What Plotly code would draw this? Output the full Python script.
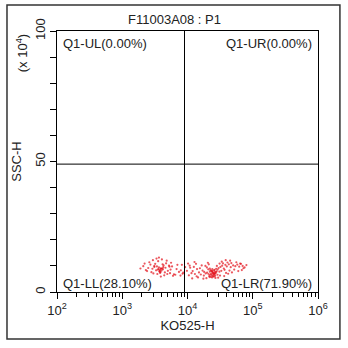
import plotly.graph_objects as go

# ---- data ----
title_text = "F11003A08 : P1"
x_label = "KO525-H"
y_label = "SSC-H"
x_tick_vals = [100, 1000, 10000, 100000, 1000000]
x_tick_text = ["10<sup>2</sup>", "10<sup>3</sup>", "10<sup>4</sup>", "10<sup>5</sup>", "10<sup>6</sup>"]
y_tick_vals = [0, 50, 100]
y_tick_text = ["0", "50", "100"]
y_minor_vals = [10, 20, 30, 40, 60, 70, 80, 90]
x_minor_vals = [m * d for d in [100, 1000, 10000, 100000] for m in range(2, 10)]
quad_x = 9000
quad_y = 49
quad_labels = ["Q1-UL(0.00%)", "Q1-UR(0.00%)", "Q1-LL(28.10%)", "Q1-LR(71.90%)"]

c1_x = [3800, 3600, 4000, 3900, 3700, 3500, 4100, 3850, 3950, 3650,
        3750, 4200, 3400, 3300, 4300, 4500, 3100, 2900, 4700, 5000,
        2700, 2500, 5400, 5800, 2300, 2100, 6200, 6800, 7400, 1900,
        3550, 4050, 3450, 4400, 3200, 2800, 4800, 5200, 2600, 3000,
        4600, 5600, 6000, 7000, 7900, 8400, 3650, 3900, 4150, 3350,
        2400, 2200, 5500, 6500, 3800, 4250, 3100, 2950, 5300, 4900]
c1_y = [8.5, 8.8, 8.2, 9.1, 7.9, 8.6, 9.0, 7.6, 8.9, 9.4,
        8.0, 8.7, 9.8, 8.3, 10.2, 7.5, 9.6, 8.9, 11.0, 8.1,
        10.5, 9.2, 7.2, 9.8, 8.4, 9.9, 6.8, 8.8, 7.7, 9.0,
        11.8, 12.5, 6.9, 6.4, 10.8, 7.6, 12.0, 10.1, 11.4, 7.1,
        9.3, 11.2, 6.2, 10.4, 8.3, 7.0, 13.2, 5.9, 10.6, 12.8,
        8.0, 10.9, 8.6, 6.6, 7.3, 9.5, 10.0, 12.2, 9.7, 6.9]

c2_x = [24500, 23000, 26000, 22000, 25000, 27000, 21000, 24000, 28000, 20000,
        23500, 25500, 19000, 29000, 22500, 26500, 18000, 30000, 21500, 27500,
        17000, 32000, 16000, 34000, 15000, 36000, 14000, 38000, 13000, 40000,
        12000, 43000, 11500, 46000, 11000, 50000, 10500, 54000, 58000, 62000,
        66000, 70000, 75000, 80000, 24800, 23800, 25800, 22800, 26800, 21800,
        20800, 19800, 18800, 28800, 30800, 33000, 35000, 37000, 39000, 41000,
        44000, 47000, 52000, 56000, 60000, 64000, 68000, 72000, 31000, 29500,
        16500, 15500, 14500, 13500, 12500, 24200, 25200, 23200, 26200, 22200,
        27200, 24600, 23600, 25600, 20500, 19500, 31500, 33500, 17500, 42000,
        45000, 48000, 38500, 36500, 12800, 11800, 10800, 24000, 26000, 22000,
        8600, 9200, 7800, 9800, 8200, 10200, 13800, 17800, 21200, 28200]
c2_y = [7.3, 7.0, 7.6, 7.8, 6.8, 7.2, 6.9, 8.0, 7.9, 7.4,
        6.5, 8.3, 7.1, 8.6, 8.4, 6.3, 7.7, 9.2, 6.1, 8.9,
        8.2, 9.6, 6.7, 10.1, 7.5, 9.0, 8.8, 10.4, 6.9, 9.8,
        8.0, 10.6, 7.2, 9.5, 9.3, 10.2, 6.4, 9.9, 10.5, 9.7,
        10.8, 10.0, 9.4, 10.3, 5.9, 5.6, 6.0, 5.8, 5.4, 5.7,
        8.7, 9.4, 10.0, 6.6, 7.8, 8.1, 11.0, 8.5, 7.3, 11.3,
        8.2, 11.1, 8.6, 11.4, 8.0, 10.9, 8.4, 9.1, 10.9, 5.5,
        10.2, 9.1, 5.6, 10.8, 9.6, 7.5, 7.1, 8.1, 7.0, 6.6,
        7.7, 6.2, 7.9, 6.9, 11.2, 5.3, 6.3, 11.6, 5.1, 7.0,
        12.0, 7.5, 12.2, 6.1, 11.5, 5.2, 10.1, 8.8, 8.5, 9.0,
        7.4, 9.5, 6.3, 8.1, 10.4, 10.9, 6.0, 6.3, 10.6, 10.0]

FONT = "Liberation Sans, Arial, sans-serif"
TXT = "#222222"
FS = 13

fig = go.Figure()
for xs, ys in [(c1_x, c1_y), (c2_x, c2_y)]:
    fig.add_trace(go.Scatter(
        x=xs, y=ys, mode="markers",
        marker=dict(size=2.2, color="#e3101a", opacity=0.7, line=dict(width=0)),
        showlegend=False, hoverinfo="skip"))

# quadrant dividers
fig.add_shape(type="line", xref="x", yref="paper", x0=quad_x, x1=quad_x, y0=0, y1=1,
              line=dict(color="black", width=1))
fig.add_shape(type="line", xref="paper", yref="y", x0=0, x1=1, y0=quad_y, y1=quad_y,
              line=dict(color="black", width=1))
# outer frame
fig.add_shape(type="rect", xref="paper", yref="paper",
              x0=-0.1916, x1=1.084, y0=-0.18, y1=1.0996,
              line=dict(color="#333333", width=1.5))

ann_font = dict(family=FONT, size=FS, color=TXT)
fig.add_annotation(xref="paper", yref="paper", x=0.015, y=0.954, text=quad_labels[0],
                   showarrow=False, xanchor="left", yanchor="middle", font=ann_font)
fig.add_annotation(xref="paper", yref="paper", x=0.985, y=0.954, text=quad_labels[1],
                   showarrow=False, xanchor="right", yanchor="middle", font=ann_font)
fig.add_annotation(xref="paper", yref="paper", x=0.015, y=0.034, text=quad_labels[2],
                   showarrow=False, xanchor="left", yanchor="middle", font=ann_font)
fig.add_annotation(xref="paper", yref="paper", x=0.985, y=0.034, text=quad_labels[3],
                   showarrow=False, xanchor="right", yanchor="middle", font=ann_font)
fig.add_annotation(xref="paper", yref="paper", x=0.452, y=1.045, text=title_text,
                   showarrow=False, xanchor="center", yanchor="middle", font=ann_font)
fig.add_annotation(xref="paper", yref="paper", x=-0.134, y=0.915, text="(x 10<sup>4</sup>)",
                   showarrow=False, xanchor="center", yanchor="middle", textangle=-90,
                   font=ann_font)

fig.update_layout(
    width=348, height=348,
    margin=dict(l=57, r=30, t=31, b=56, pad=0, autoexpand=False),
    paper_bgcolor="white", plot_bgcolor="white",
    font=dict(family=FONT, size=FS, color=TXT),
    xaxis=dict(type="log", range=[2, 6], tickvals=x_tick_vals, ticktext=x_tick_text,
               automargin=False,
               ticks="outside", ticklen=6, tickcolor="black", showgrid=False,
               zeroline=False, showline=True, linecolor="black", linewidth=1, mirror=True,
               tickfont=dict(family=FONT, size=FS, color=TXT),
               minor=dict(tickvals=x_minor_vals, ticks="outside", ticklen=4, tickcolor="black",
                          showgrid=False),
               title=dict(text=x_label, standoff=3, font=dict(family=FONT, size=FS, color=TXT))),
    yaxis=dict(range=[0, 100], tickvals=y_tick_vals, ticktext=y_tick_text, tickangle=-90,
               automargin=False,
               ticks="outside", ticklen=6, tickcolor="black", showgrid=False,
               zeroline=False, showline=True, linecolor="black", linewidth=1, mirror=True,
               tickfont=dict(family=FONT, size=FS, color=TXT),
               minor=dict(tickvals=y_minor_vals, ticks="outside", ticklen=6, tickcolor="black",
                          showgrid=False),
               title=dict(text=y_label, standoff=8, font=dict(family=FONT, size=FS, color=TXT))),
)

fig.write_html("out.html",
               config={"displayModeBar": False, "staticPlot": True},
               post_script="document.body.style.margin='0';document.body.style.padding='0';")
